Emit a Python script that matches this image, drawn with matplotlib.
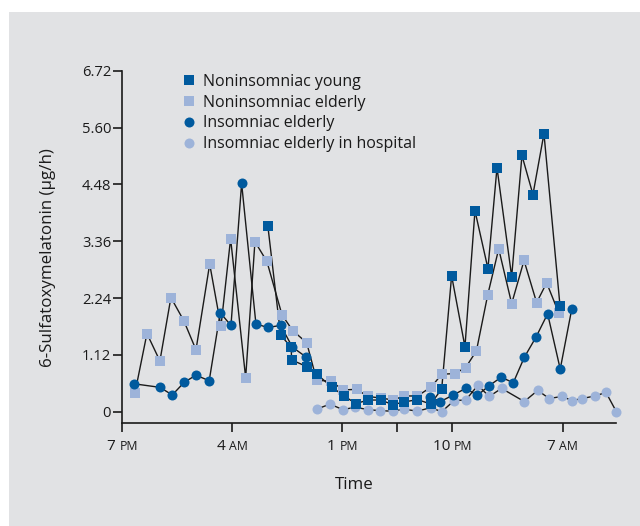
import matplotlib
matplotlib.use('Agg')
import numpy as np
import matplotlib.pyplot as plt
from matplotlib.lines import Line2D
from matplotlib.patches import Rectangle
from matplotlib.offsetbox import TextArea, HPacker, AnnotationBbox

plt.rcParams['font.family'] = ['Open Sans', 'DejaVu Sans']

# ---- data (hours after 7 PM, µg/h) ----
young_h = [11.91, 12.95, 13.81, 13.85, 15.08, 15.9, 17.12, 18.13, 19.11, 20.09, 21.13,
           22.12, 23.03, 24.14, 25.22, 26.12, 26.93, 28.02, 28.84, 29.9, 30.64, 31.84,
           32.68, 33.58, 34.48, 35.79]
young_v = [3.65, 1.51, 1.27, 1.02, 0.89, 0.74, 0.49, 0.31, 0.16, 0.23, 0.23,
           0.14, 0.19, 0.24, 0.15, 0.45, 2.68, 1.28, 3.96, 2.82, 4.81, 2.66,
           5.05, 4.28, 5.48, 2.09]

elderly_h = [1.04, 2.02, 3.08, 3.98, 5.04, 6.03, 7.15, 8.07, 8.86, 10.09, 10.85, 11.83,
             13.06, 13.93, 15.08, 15.9, 17.06, 18.07, 19.17, 20.09, 21.13, 22.16, 23.03,
             24.14, 25.28, 26.12, 27.18, 28.08, 28.96, 29.88, 30.78, 31.84, 32.85, 33.88,
             34.7, 35.68]
elderly_v = [0.37, 1.54, 1.0, 2.25, 1.79, 1.22, 2.91, 1.68, 3.41, 0.67, 3.35, 2.96,
             1.91, 1.6, 1.36, 0.62, 0.6, 0.43, 0.44, 0.3, 0.27, 0.23, 0.31,
             0.31, 0.49, 0.74, 0.75, 0.87, 1.2, 2.3, 3.21, 2.13, 2.98, 2.15,
             2.54, 1.95]

insom_h = [0.96, 3.08, 4.09, 5.07, 6.03, 7.11, 8.01, 8.89, 9.76, 10.93, 11.89, 12.95,
           13.92, 15.02, np.nan, 25.2, 26.02, 27.06, 28.09, 29.03, 29.98, 30.99, 31.97,
           32.87, 33.83, 34.78, 35.81, 36.75]
insom_v = [0.55, 0.48, 0.33, 0.58, 0.72, 0.61, 1.95, 1.7, 4.5, 1.73, 1.66, 1.7,
           1.27, 1.08, np.nan, 0.28, 0.2, 0.33, 0.46, 0.32, 0.51, 0.68, 0.57,
           1.07, 1.47, 1.93, 0.84, 2.02]

hosp_h = [15.9, 16.98, 18.05, 19.04, 20.09, 21.1, 22.11, 23.03, 24.14, 25.22, 26.12,
          27.14, 28.09, 29.07, 30.01, 31.01, 32.87, 33.97, 34.91, 35.93, 36.79, 37.61,
          38.65, 39.55, 40.4]
hosp_v = [0.05, 0.15, 0.04, 0.09, 0.04, 0.02, 0.01, 0.05, 0.01, 0.08, 0.0,
          0.22, 0.23, 0.52, 0.3, 0.46, 0.2, 0.42, 0.26, 0.3, 0.22, 0.26,
          0.31, 0.38, 0.0]

series_labels = ['Noninsomniac young', 'Noninsomniac elderly', 'Insomniac elderly',
                 'Insomniac elderly in hospital']

xtick_hours = [0, 9, 18, 27, 36]
xtick_nums = ['7', '4', '1', '10', '7']
xtick_suffix = ['PM', 'AM', 'PM', 'PM', 'AM']
xminor_hours = [22.5]
yticks = [0, 1.12, 2.24, 3.36, 4.48, 5.60, 6.72]
ytick_labels = ['0', '1.12', '2.24', '3.36', '4.48', '5.60', '6.72']

# ---- style ----
DARK = '#005a9e'
LIGHT = '#9db3d9'
LINE = '#1a1a1a'
BG = '#e1e2e4'
TXT = '#1a1a1a'
SQ_MS = 6.6
CI_MS = 7.2

fig = plt.figure(figsize=(6.4, 5.26), dpi=100, facecolor='white')
fig.patches.append(Rectangle((9 / 640, 0), 1, 1 - 12 / 526, transform=fig.transFigure,
                             facecolor=BG, edgecolor='none', zorder=-10))

ax = fig.add_axes([0.191, 0.1952, 0.7715, 0.6704])
ax.patch.set_visible(False)
ax.set_xlim(0, 40.37)
ax.set_ylim(-0.229, 6.72)

specs = [
    (young_h, young_v, 's', DARK, SQ_MS, 6),
    (elderly_h, elderly_v, 's', LIGHT, SQ_MS, 4),
    (insom_h, insom_v, 'o', DARK, CI_MS, 5),
    (hosp_h, hosp_v, 'o', LIGHT, CI_MS, 4),
]
for h, v, m, c, ms, z in specs:
    ax.plot(h, v, color=LINE, lw=1.0, zorder=2, clip_on=False)
    ax.plot(h, v, ls='none', marker=m, ms=ms, mfc=c, mec=c, mew=0, zorder=z, clip_on=False)

for s in ['top', 'right']:
    ax.spines[s].set_visible(False)
for s in ['left', 'bottom']:
    ax.spines[s].set_linewidth(1.2)
    ax.spines[s].set_color(TXT)

ax.set_yticks(yticks)
ax.set_yticklabels(ytick_labels)
ax.tick_params(axis='y', direction='out', length=6.5, width=1.2, color=TXT,
               labelsize=10.6, labelcolor=TXT, pad=1.5)
ax.set_xticks(xtick_hours + xminor_hours)
ax.set_xticklabels([''] * (len(xtick_hours) + len(xminor_hours)))
ax.tick_params(axis='x', direction='out', length=6.5, width=1.2, color=TXT)

for hx, num, suf in zip(xtick_hours, xtick_nums, xtick_suffix):
    box = HPacker(children=[TextArea(num + ' ', textprops=dict(size=11, color=TXT)),
                            TextArea(suf, textprops=dict(size=8.8, color=TXT))],
                  align='baseline', pad=0, sep=0)
    ab = AnnotationBbox(box, (hx, 0), xycoords=('data', 'axes fraction'),
                        xybox=(0, -11.5), boxcoords='offset points',
                        box_alignment=(0.5, 1), frameon=False, annotation_clip=False)
    ax.add_artist(ab)

fig.text(354 / 640, 1 - 485 / 526, 'Time', ha='center', va='center', fontsize=12.2, color=TXT)
fig.text(48 / 640, 1 - 258 / 526, '6-Sulfatoxymelatonin (μg/h)', rotation=90,
         ha='center', va='center', fontsize=12.2, color=TXT)

handles = [Line2D([], [], ls='none', marker='s', ms=SQ_MS, mfc=DARK, mec=DARK, mew=0),
           Line2D([], [], ls='none', marker='s', ms=SQ_MS, mfc=LIGHT, mec=LIGHT, mew=0),
           Line2D([], [], ls='none', marker='o', ms=CI_MS, mfc=DARK, mec=DARK, mew=0),
           Line2D([], [], ls='none', marker='o', ms=CI_MS, mfc=LIGHT, mec=LIGHT, mew=0)]
leg = ax.legend(handles, series_labels, loc='upper left', bbox_to_anchor=(0.12, 0.991),
                frameon=False, handlelength=0.9, handletextpad=0.45, labelspacing=0.3,
                borderaxespad=0, borderpad=0, fontsize=11.5)
for t in leg.get_texts():
    t.set_color(TXT)

fig.savefig('out.png', dpi=100, facecolor=fig.get_facecolor())
